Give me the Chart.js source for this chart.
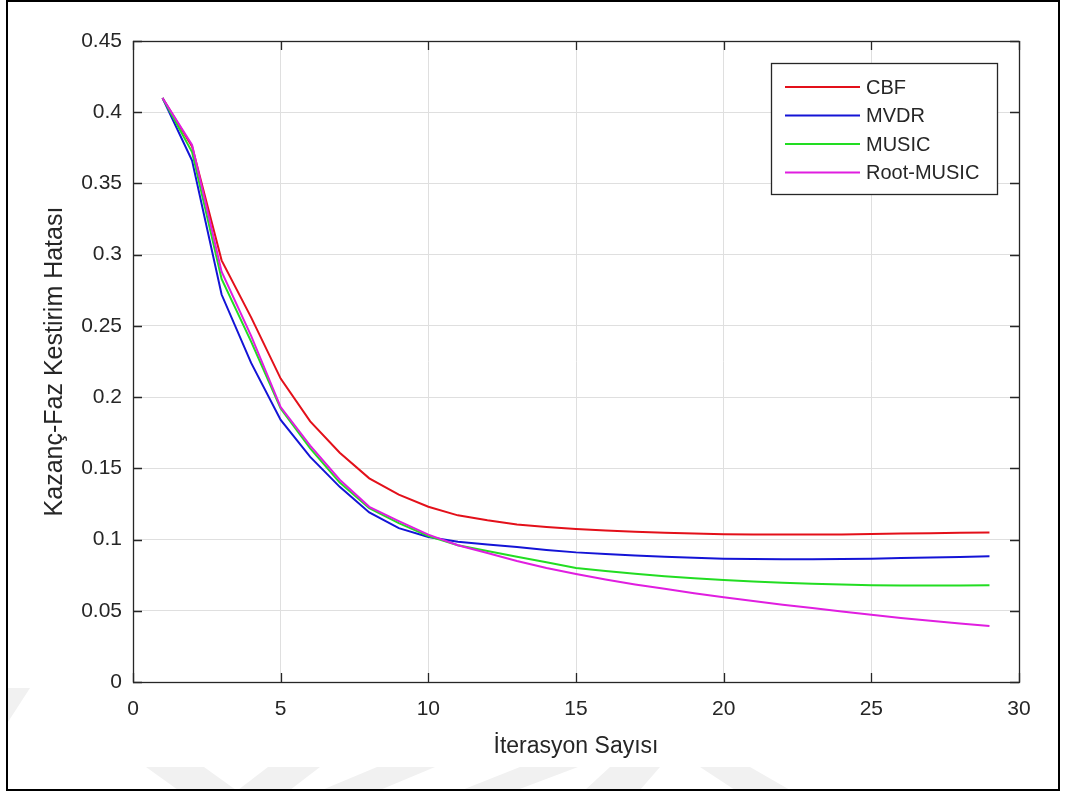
<!DOCTYPE html>
<html>
<head>
<meta charset="utf-8">
<title>Kazanç-Faz Kestirim Hatası</title>
<script src="https://cdn.jsdelivr.net/npm/chart.js@4/dist/chart.umd.min.js"></script>
<style>
  html, body { margin: 0; padding: 0; background: #ffffff; }
  #wrap { position: relative; width: 1066px; height: 798px; }
  #plot { position: absolute; left: 0; top: 0; display: block; }
  #frame {
    position: absolute; left: 6px; top: 0px; width: 1050px; height: 787px;
    border: 2px solid #000; pointer-events: none;
  }
</style>
</head>
<body>
<div id="wrap">
  <canvas id="plot" width="1066" height="798"></canvas>
  <div id="frame"></div>
</div>
<script>
// Iteration index on the x axis
const iterations = [1, 2, 3, 4, 5, 6, 7, 8, 9, 10, 11, 12, 13, 14, 15,
                    16, 17, 18, 19, 20, 21, 22, 23, 24, 25, 26, 27, 28, 29];

// Gain-phase estimation error per method
const cbf = [0.410, 0.376, 0.296, 0.256, 0.213, 0.183, 0.161, 0.143, 0.1315, 0.123,
             0.1170, 0.1135, 0.1105, 0.1088, 0.1074, 0.1063, 0.1054, 0.1047, 0.1042, 0.1038,
             0.1036, 0.1035, 0.1035, 0.1036, 0.1039, 0.1042, 0.1045, 0.1048, 0.1050];
const mvdr = [0.410, 0.366, 0.272, 0.224, 0.184, 0.158, 0.137, 0.119, 0.108, 0.1018,
              0.0985, 0.0966, 0.0948, 0.0927, 0.0910, 0.0898, 0.0888, 0.0879, 0.0872, 0.0866,
              0.0863, 0.0861, 0.0861, 0.0863, 0.0866, 0.0870, 0.0874, 0.0878, 0.0882];
const music = [0.410, 0.372, 0.283, 0.239, 0.192, 0.164, 0.140, 0.122, 0.1115, 0.1025,
               0.0960, 0.0920, 0.0880, 0.0840, 0.0800, 0.0780, 0.0760, 0.0743, 0.0728, 0.0716,
               0.0705, 0.0697, 0.0690, 0.0684, 0.0679, 0.0677, 0.0677, 0.0678, 0.0679];
const rootMusic = [0.410, 0.377, 0.288, 0.243, 0.193, 0.166, 0.142, 0.123, 0.113, 0.1035,
                   0.0960, 0.0905, 0.0850, 0.0800, 0.0758, 0.0720, 0.0685, 0.0654, 0.0623, 0.0595,
                   0.0568, 0.0543, 0.0519, 0.0495, 0.0472, 0.0450, 0.0430, 0.0411, 0.0393];

const seriesNames = ['CBF', 'MVDR', 'MUSIC', 'Root-MUSIC'];

// Tick labels
const xTickValues = [0, 5, 10, 15, 20, 25, 30];
const xTickLabels = ['0', '5', '10', '15', '20', '25', '30'];
const yTickValues = [0, 0.05, 0.1, 0.15, 0.2, 0.25, 0.3, 0.35, 0.4, 0.45];
const yTickLabels = ['0', '0.05', '0.1', '0.15', '0.2', '0.25', '0.3', '0.35', '0.4', '0.45'];

const xTitle = 'İterasyon Sayısı';
const yTitle = 'Kazanç-Faz Kestirim Hatası';

const FONT = '"Liberation Sans", Arial, Helvetica, sans-serif';
const TEXT = '#262626';
const AXIS = '#262626';
const colors = ['#e3101a', '#1414d6', '#22dd22', '#e01ee0'];

function toPoints(values) {
  return iterations.map((x, i) => ({ x: x, y: values[i] }));
}

function labelFor(values, labels, v) {
  for (let i = 0; i < values.length; i++) {
    if (Math.abs(values[i] - v) < 1e-9) return labels[i];
  }
  return '';
}

// Faint page watermark along the lower edge
const watermarkPlugin = {
  id: 'pageWatermark',
  beforeDraw(chart) {
    const { ctx } = chart;
    const shapes = [
      [[146, 767], [204, 767], [236, 790], [178, 790]],
      [[268, 767], [320, 767], [290, 790], [238, 790]],
      [[377, 767], [435, 767], [380, 790], [322, 790]],
      [[520, 767], [578, 767], [517, 790], [462, 790]],
      [[610, 767], [660, 767], [640, 790], [585, 790]],
      [[700, 767], [750, 767], [790, 790], [735, 790]],
      [[8, 688], [30, 688], [8, 722]]
    ];
    ctx.save();
    ctx.fillStyle = '#f1f1f1';
    shapes.forEach(pts => {
      ctx.beginPath();
      pts.forEach((p, i) => (i ? ctx.lineTo(p[0], p[1]) : ctx.moveTo(p[0], p[1])));
      ctx.closePath();
      ctx.fill();
    });
    ctx.restore();
  }
};

// Axes box with inward tick marks on all four sides
const boxPlugin = {
  id: 'matlabBox',
  afterDatasetsDraw(chart) {
    const { ctx, chartArea: a, scales } = chart;
    const len = 9;
    ctx.save();
    ctx.strokeStyle = AXIS;
    ctx.lineWidth = 1.3;
    ctx.beginPath();
    xTickValues.forEach(v => {
      const px = Math.round(scales.x.getPixelForValue(v)) + 0.5;
      ctx.moveTo(px, a.bottom); ctx.lineTo(px, a.bottom - len);
      ctx.moveTo(px, a.top); ctx.lineTo(px, a.top + len);
    });
    yTickValues.forEach(v => {
      const py = Math.round(scales.y.getPixelForValue(v)) + 0.5;
      ctx.moveTo(a.left, py); ctx.lineTo(a.left + len, py);
      ctx.moveTo(a.right, py); ctx.lineTo(a.right - len, py);
    });
    ctx.stroke();
    ctx.strokeRect(Math.round(a.left) + 0.5, Math.round(a.top) + 0.5,
                   Math.round(a.right - a.left), Math.round(a.bottom - a.top));
    ctx.restore();
  }
};

// Boxed legend in the upper right of the axes
const legendPlugin = {
  id: 'boxLegend',
  afterDraw(chart) {
    const { ctx } = chart;
    const left = 771, top = 63, width = 226, height = 131;
    const rowY = [87, 115.5, 144, 172.5];
    ctx.save();
    ctx.fillStyle = '#ffffff';
    ctx.fillRect(left, top, width, height);
    ctx.strokeStyle = AXIS;
    ctx.lineWidth = 1.3;
    ctx.strokeRect(left + 0.5, top + 0.5, width, height);
    ctx.font = '20px ' + FONT;
    ctx.textBaseline = 'middle';
    ctx.textAlign = 'left';
    chart.data.datasets.forEach((ds, i) => {
      ctx.strokeStyle = ds.borderColor;
      ctx.lineWidth = ds.borderWidth;
      ctx.beginPath();
      ctx.moveTo(785, rowY[i]);
      ctx.lineTo(860, rowY[i]);
      ctx.stroke();
      ctx.fillStyle = TEXT;
      ctx.fillText(ds.label, 866, rowY[i] + 1);
    });
    ctx.restore();
  }
};

const datasets = [cbf, mvdr, music, rootMusic].map((vals, i) => ({
  label: seriesNames[i],
  data: toPoints(vals),
  borderColor: colors[i],
  backgroundColor: colors[i],
  borderWidth: 2,
  pointRadius: 0,
  tension: 0,
  fill: false,
  order: 4 - i
}));

new Chart(document.getElementById('plot'), {
  type: 'line',
  data: { datasets: datasets },
  options: {
    responsive: false,
    animation: false,
    devicePixelRatio: 1,
    layout: { padding: { left: 0, top: 41, right: 47, bottom: 0 } },
    plugins: {
      legend: { display: false },
      tooltip: { enabled: false }
    },
    scales: {
      x: {
        type: 'linear',
        min: 0,
        max: 30,
        afterFit(scale) { scale.height = 116; },
        afterBuildTicks(scale) { scale.ticks = xTickValues.map(v => ({ value: v })); },
        ticks: {
          color: TEXT,
          font: { family: FONT, size: 21 },
          padding: 15,
          maxRotation: 0,
          callback: v => labelFor(xTickValues, xTickLabels, v)
        },
        grid: { color: '#dfdfdf', lineWidth: 1, drawTicks: false },
        border: { display: false },
        title: {
          display: true,
          text: xTitle,
          color: TEXT,
          font: { family: FONT, size: 23 },
          padding: { top: 0, bottom: 38 }
        }
      },
      y: {
        type: 'linear',
        min: 0,
        max: 0.45,
        afterFit(scale) { scale.width = 133; },
        afterBuildTicks(scale) { scale.ticks = yTickValues.map(v => ({ value: v })); },
        ticks: {
          color: TEXT,
          font: { family: FONT, size: 21 },
          padding: 11,
          callback: v => labelFor(yTickValues, yTickLabels, v)
        },
        grid: { color: '#dfdfdf', lineWidth: 1, drawTicks: false },
        border: { display: false },
        title: {
          display: true,
          text: yTitle,
          color: TEXT,
          font: { family: FONT, size: 25 },
          padding: { top: 40, bottom: 0 }
        }
      }
    }
  },
  plugins: [watermarkPlugin, boxPlugin, legendPlugin]
});
</script>
</body>
</html>
